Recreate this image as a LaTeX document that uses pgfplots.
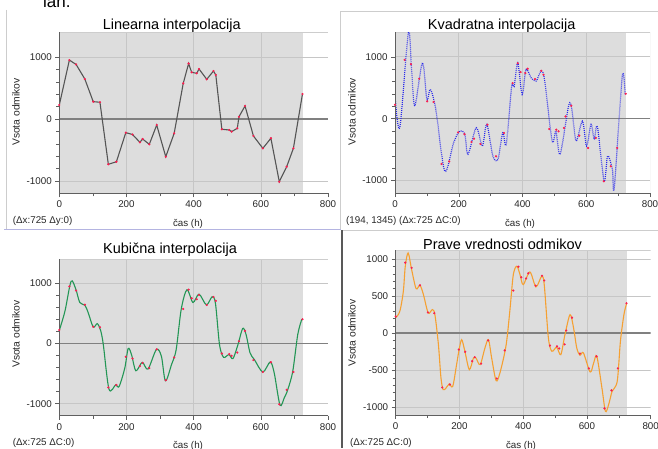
\documentclass[border=0pt]{standalone}
\usepackage{pgfplots}
\usepackage{pgfplotstable}
\pgfplotsset{compat=1.18}
\usepackage{fontspec}
\setmainfont{Liberation Sans}

\definecolor{bggrey}{RGB}{221,221,221}
\definecolor{gridc}{RGB}{198,198,198}
\definecolor{zeroc}{RGB}{128,128,128}
\definecolor{redk}{RGB}{250,30,80}
\definecolor{linc}{RGB}{85,85,85}
\definecolor{quadc}{RGB}{40,40,235}
\definecolor{cubc}{RGB}{35,150,85}
\definecolor{truec}{RGB}{245,160,50}
\definecolor{axc}{RGB}{95,95,95}
\definecolor{framec}{RGB}{205,205,205}
\definecolor{divc}{RGB}{180,180,225}
\definecolor{txt}{RGB}{40,40,40}

\pgfplotstableread{
x y
0 226
30 950
50 880
76 645
101 280
121 270
146 -730
170 -690
198 -220
218 -250
240 -376
248 -323
268 -408
290 -97
317 -608
342 -231
369 575
385 895
394 753
409 737
416 806
439 640
459 774
466 710
484 -166
506 -177
513 -204
530 -150
535 37
553 210
578 -274
606 -473
630 -311
655 -1011
677 -769
697 -473
724 403
}\knots

\pgfplotstableread{
x y
0 380
15 -145
42 1390
52 800
62 204
86 903
100 312
111 473
128 150
156 -844
184 -387
203 -200
219 -253
229 -575
255 -145
274 -441
288 -91
307 -602
323 -656
338 -226
349 -414
366 520
374 516
385 903
399 392
411 796
427 661
443 608
458 769
469 634
493 -360
505 -199
518 -575
545 215
555 150
568 -360
588 -38
601 -441
615 -91
625 -333
635 -134
656 -1005
667 -602
682 -817
688 -1113
713 688
722 392
}\quaddata

\pgfplotstableread{
x y
0 218
17 542
35 1033
49 905
61 682
76 637
86 514
101 274
113 330
123 218
131 -17
148 -760
168 -687
178 -715
195 -408
205 -84
215 -184
228 -453
247 -313
264 -425
289 -100
304 -212
316 -620
334 -352
348 -100
363 570
380 894
398 682
416 821
438 642
455 777
465 665
477 -17
489 -229
505 -184
517 -251
532 -17
546 251
556 151
568 -156
581 -268
606 -475
628 -307
640 -492
657 -1022
670 -900
680 -771
695 -464
710 151
722 402
}\cubicdata

\pgfplotstableread{
x y
0 210
13 296
24 565
30 900
39 1080
50 856
64 600
76 646
87 520
102 273
115 318
123 250
134 -153
142 -600
149 -759
158 -736
168 -682
179 -713
191 -422
199 -220
207 -86
217 -242
231 -490
244 -332
252 -335
265 -422
280 -198
291 -86
301 -332
315 -638
327 -534
343 -242
350 -40
359 341
369 789
380 902
390 789
400 654
421 825
440 623
458 767
466 654
479 -63
490 -242
505 -188
518 -288
531 -19
547 250
558 71
568 -198
578 -296
589 -265
610 -521
621 -400
631 -310
647 -736
658 -1050
668 -961
679 -781
695 -646
705 -108
716 250
724 394
}\truedata

\pgfplotsset{
  panel/.style={
    scale only axis, anchor=south west,
    xmin=0, xmax=800, xtick={0,200,...,800}, minor x tick num=1,
    axis lines=left, axis line style={-, axc, line width=0.6pt},
    tick align=outside, major tick length=4pt, minor tick length=3pt,
    every tick/.style={axc, line width=0.5pt},
    ticklabel style={font=\fontsize{9.8}{11}\selectfont, text=txt},
    /pgf/number format/assume math mode=true,
    /pgf/number format/set thousands separator={},
    axis on top=true,
  },
  panelA/.style={panel, ymin=-1200, ymax=1400, ytick={-1000,0,1000}, minor y tick num=4},
}

\newcommand{\panelbg}[2]{%
  \fill[bggrey] (axis cs:0,#1) rectangle (axis cs:725,#2);
  \draw[gridc, line width=0.6pt] (axis cs:200,#1) -- (axis cs:200,#2);
  \draw[gridc, line width=0.6pt] (axis cs:400,#1) -- (axis cs:400,#2);
  \draw[gridc, line width=0.6pt] (axis cs:600,#1) -- (axis cs:600,#2);
  \draw[framec] (axis cs:0,#2) -- (axis cs:800,#2) -- (axis cs:800,#1);
}
\newcommand{\hgrid}[1]{\draw[gridc, line width=0.6pt] (axis cs:0,#1) -- (axis cs:800,#1);}
\newcommand{\zeroline}{\draw[zeroc, line width=1.5pt] (axis cs:0,0) -- (axis cs:800,0);}

\begin{document}
\begin{tikzpicture}
\useasboundingbox (0,0) rectangle (658pt,448pt);
\fill[white] (0,0) rectangle (658pt,448pt);

% panel frames
\draw[framec, line width=0.7pt] (6.7pt,438pt) -- (6.7pt,219pt);
\draw[framec, line width=0.7pt] (340pt,219pt) -- (340pt,436.3pt) -- (658pt,436.3pt);
\draw[divc, line width=0.8pt] (4pt,218.5pt) -- (341pt,218.5pt);
\draw[framec, line width=0.7pt] (341pt,218pt) -- (658pt,218pt);
\draw[black!65, line width=1.6pt] (341.7pt,218pt) -- (341.7pt,0pt);

% cut-off text at top
\node[anchor=base west, inner sep=0pt, font=\fontsize{17}{20}\selectfont] at (43pt,440.7pt) {lan.};

% ---------- Panel 1: linear
\begin{axis}[panelA, at={(59.3pt,254.6pt)}, width=268.7pt, height=161.2pt]
\panelbg{-1200}{1400}
\hgrid{1000}\hgrid{-1000}
\zeroline
\addplot[linc, line width=1.1pt] table {\knots};
\addplot[only marks, mark=*, mark size=0.9pt, redk] table {\knots};
\end{axis}

% ---------- Panel 2: quadratic
\begin{axis}[panelA, at={(395pt,255pt)}, width=255pt, height=161pt]
\panelbg{-1200}{1400}
\hgrid{1000}\hgrid{-1000}
\zeroline
\addplot[quadc, line width=1.2pt, smooth, dash pattern=on 0.9pt off 1.1pt] table {\quaddata};
\addplot[only marks, mark=*, mark size=0.9pt, redk] table {\knots};
\end{axis}

% ---------- Panel 3: cubic
\begin{axis}[panelA, at={(59.3pt,32.3pt)}, width=268.7pt, height=156.4pt]
\panelbg{-1200}{1400}
\hgrid{1000}\hgrid{-1000}
\zeroline
\addplot[cubc, line width=1.1pt, smooth] table {\cubicdata};
\addplot[only marks, mark=*, mark size=0.9pt, redk] table {\knots};
\end{axis}

% ---------- Panel 4: true values
\begin{axis}[panel, at={(395.7pt,33pt)}, width=255pt, height=165pt,
  ymin=-1100, ymax=1120, ytick={-1000,-500,0,500,1000}, minor y tick num=4]
\panelbg{-1100}{1120}
\hgrid{1000}\hgrid{500}\hgrid{-500}\hgrid{-1000}
\zeroline
\addplot[truec, line width=1.1pt, smooth] table {\truedata};
\addplot[only marks, mark=*, mark size=0.9pt, redk] table {\knots};
\end{axis}

% titles
\begin{scope}[every node/.style={inner sep=0pt, font=\fontsize{14.5}{17}\selectfont}]
\node[anchor=base] at (171.7pt,418.7pt) {Linearna interpolacija};
\node[anchor=base] at (501.7pt,418.7pt) {Kvadratna interpolacija};
\node[anchor=base] at (170pt,194.7pt) {Kubična interpolacija};
\node[anchor=base] at (502.5pt,199pt) {Prave vrednosti odmikov};
\end{scope}

% y labels
\begin{scope}[every node/.style={inner sep=0pt, rotate=90, text=txt, font=\fontsize{10.3}{12}\selectfont}]
\node at (16pt,336pt) {Vsota odmikov};
\node at (352pt,336.3pt) {Vsota odmikov};
\node at (16pt,114pt) {Vsota odmikov};
\node at (352pt,115pt) {Vsota odmikov};
\end{scope}

% x labels and readouts
\begin{scope}[every node/.style={inner sep=0pt, text=txt, font=\fontsize{9.8}{11}\selectfont}]
\node[anchor=base] at (188pt,222pt) {čas (h)};
\node[anchor=base] at (520pt,222pt) {čas (h)};
\node[anchor=base] at (188pt,0pt) {čas (h)};
\node[anchor=base] at (521pt,0pt) {čas (h)};
\node[anchor=base west] at (12.7pt,224.5pt) {(Δx:725 Δy:0)};
\node[anchor=base west] at (346pt,224.5pt) {(194, 1345) (Δx:725 ΔC:0)};
\node[anchor=base west] at (12.7pt,2.5pt) {(Δx:725 ΔC:0)};
\node[anchor=base west] at (350pt,2.5pt) {(Δx:725 ΔC:0)};
\end{scope}
\end{tikzpicture}
\end{document}
